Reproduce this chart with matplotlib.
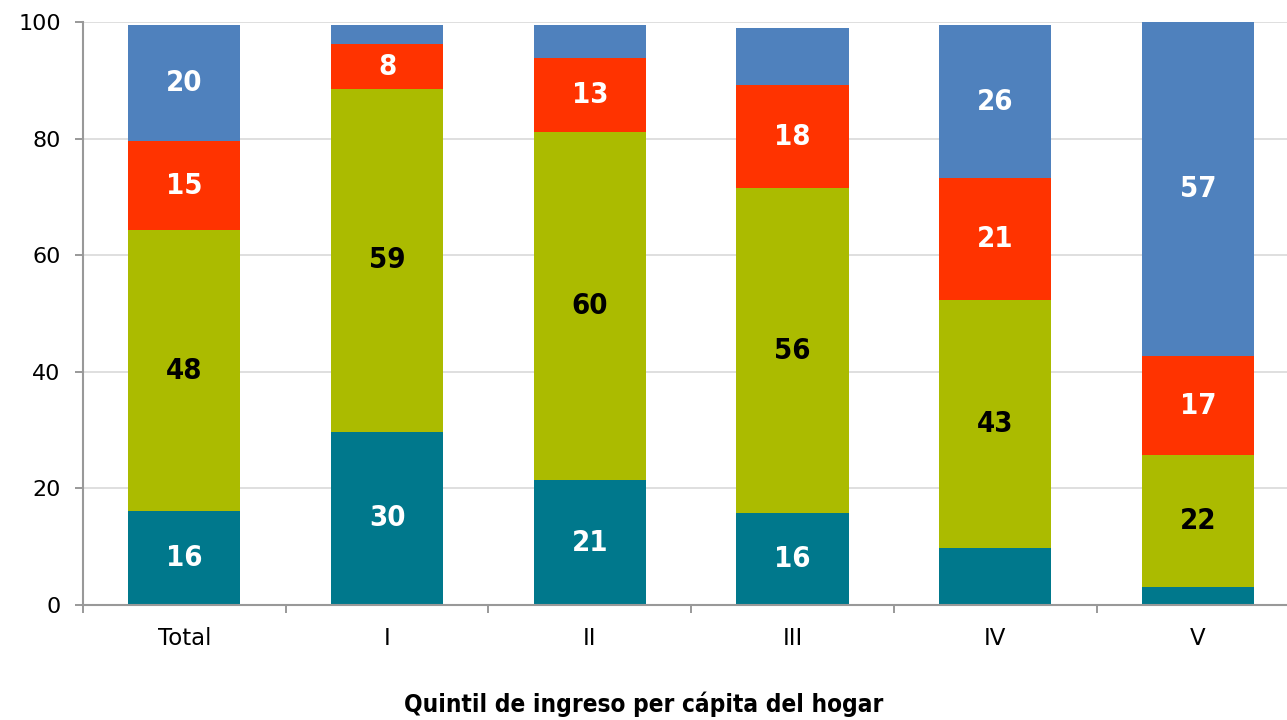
import numpy as np
import matplotlib.pyplot as plt
from matplotlib import font_manager

# -------------------
# DATA
# -------------------
categories = ['Total', 'I', 'II', 'III', 'IV', 'V']
seg_teal = [16.1, 29.7, 21.4, 15.8, 9.8, 3.1]
seg_green = [48.2, 58.8, 59.7, 55.7, 42.5, 22.6]
seg_red = [15.3, 7.7, 12.7, 17.7, 20.9, 17.0]
seg_blue = [19.9, 3.3, 5.7, 9.8, 26.3, 57.3]

# labels printed inside the segments (None = no label)
lab_teal = ['16', '30', '21', '16', None, None]
lab_green = ['48', '59', '60', '56', '43', '22']
lab_red = ['15', '8', '13', '18', '21', '17']
lab_blue = ['20', None, None, None, '26', '57']

xlabel = 'Quintil de ingreso per cápita del hogar'

# -------------------
# FONT (narrow if we have one)
# -------------------
names = {f.name for f in font_manager.fontManager.ttflist}
condensed = [f for f in font_manager.fontManager.ttflist
             if f.name == 'DejaVu Sans' and f.stretch in ('condensed', 300)]
if 'Liberation Sans Narrow' in names:
    LABEL_FONT = dict(family=['Liberation Sans Narrow', 'DejaVu Sans'])
    lab_size, title_size = 23, 20
elif condensed:
    LABEL_FONT = dict(family=['DejaVu Sans'], fontstretch='condensed')
    lab_size, title_size = 21, 17.5
else:
    LABEL_FONT = dict(family=['DejaVu Sans'])
    lab_size, title_size = 19, 16

series = [
    (seg_teal, lab_teal, '#00788C', 'white'),
    (seg_green, lab_green, '#ABBB00', 'black'),
    (seg_red, lab_red, '#FF3300', 'white'),
    (seg_blue, lab_blue, '#4F81BD', 'white'),
]

# -------------------
# PLOT
# -------------------
fig = plt.figure(figsize=(12.87, 7.2), dpi=100)
ax = fig.add_axes([0.0645, 0.1597, 0.945, 0.8097])

x = np.arange(len(categories))
bottom = np.zeros(len(categories))
for vals, labs, color, tcol in series:
    vals = np.array(vals)
    ax.bar(x, vals, 0.553, bottom=bottom, color=color, zorder=2)
    for xi, b, v, lab in zip(x, bottom, vals, labs):
        if lab is not None:
            ax.text(xi, b + v / 2, lab, ha='center', va='center', color=tcol,
                    fontsize=lab_size, fontweight='bold', zorder=3, **LABEL_FONT)
    bottom += vals

ax.set_xlim(-0.5, len(categories) - 0.5)
ax.set_ylim(0, 100)
ax.set_yticks(np.arange(0, 101, 20))
ax.yaxis.grid(True, color='#d9d9d9', linewidth=1.2, zorder=0)
ax.set_axisbelow(True)

ax.set_xticks(x)
ax.set_xticklabels(categories, fontsize=16.5)
ax.tick_params(axis='x', length=0, pad=16)
ax.set_xticks(np.arange(-0.5, len(categories), 1), minor=True)
ax.tick_params(axis='x', which='minor', length=6, color='#888888', width=1.2)
ax.tick_params(axis='y', labelsize=16, length=6, pad=10, color='#888888', width=1.2)

for s in ['top', 'right']:
    ax.spines[s].set_visible(False)
for s in ['left', 'bottom']:
    ax.spines[s].set_color('#999999')
    ax.spines[s].set_linewidth(1.5)

fig.text(0.5, 0.022, xlabel, ha='center', va='center', fontsize=title_size,
         fontweight='bold', **LABEL_FONT)

fig.savefig('out.png', dpi=100)
